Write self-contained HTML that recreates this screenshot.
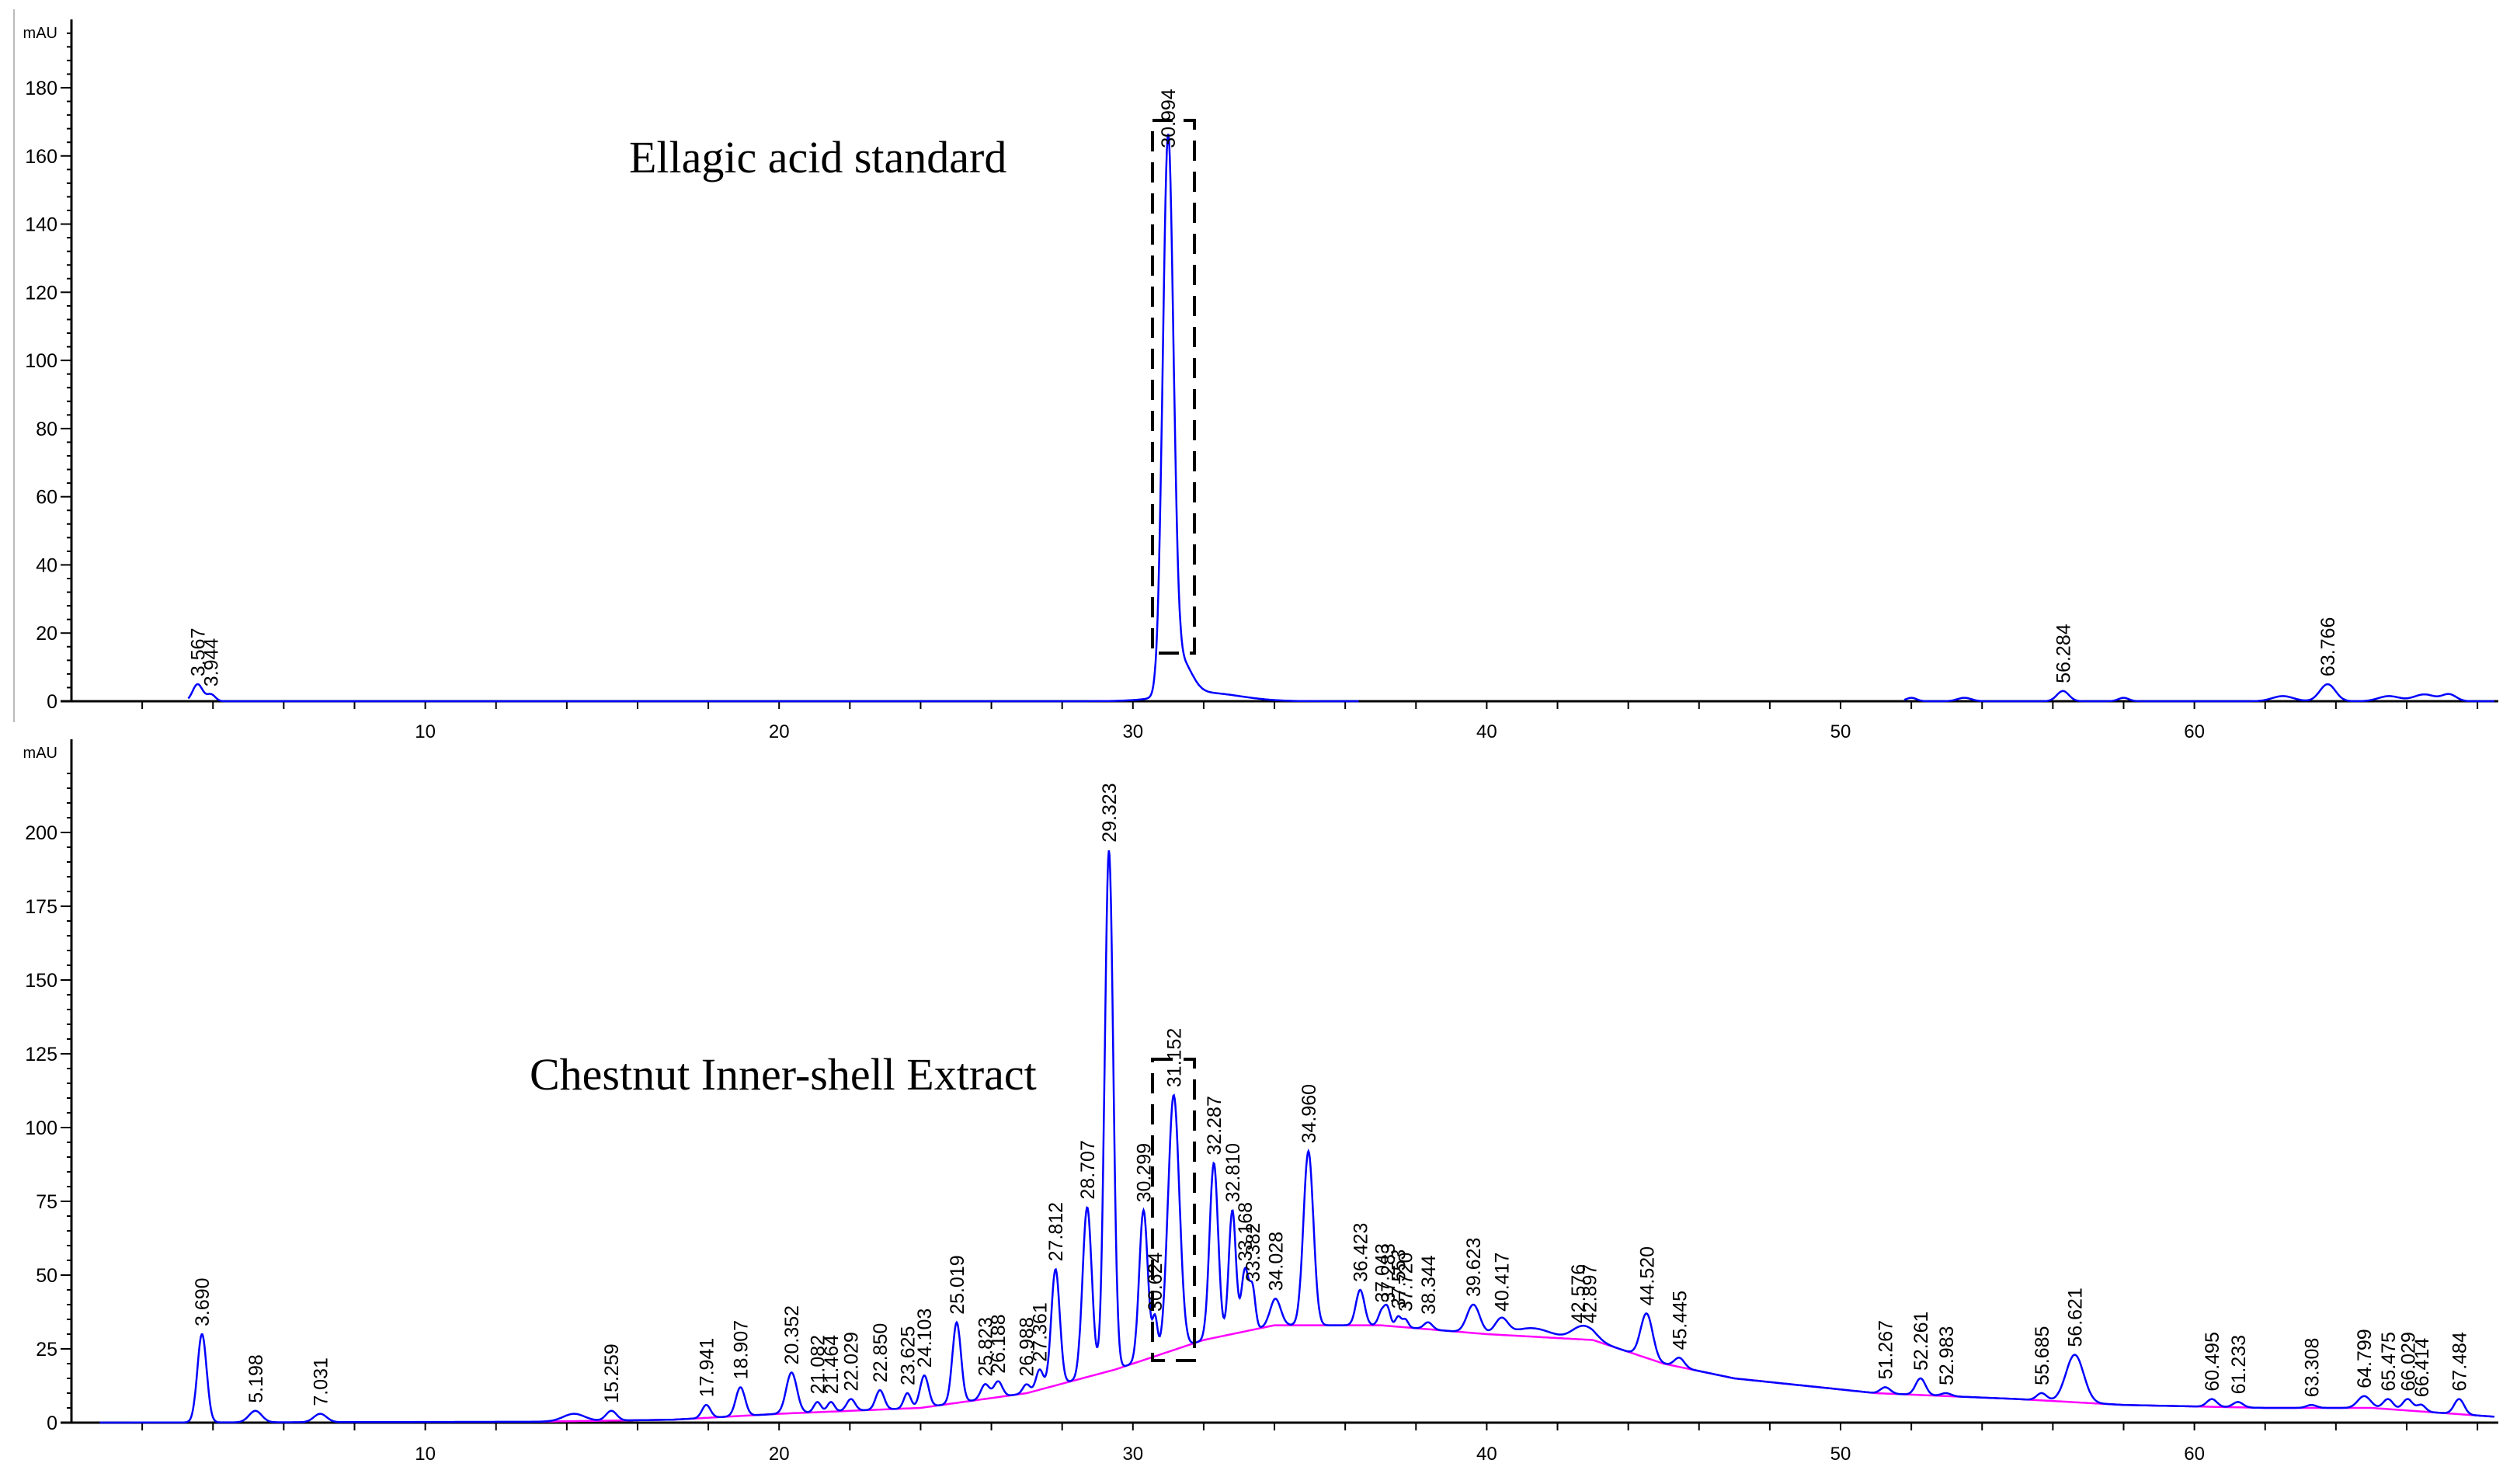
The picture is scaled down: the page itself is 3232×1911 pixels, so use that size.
<!DOCTYPE html>
<html><head><meta charset="utf-8">
<style>
html,body{margin:0;padding:0;background:#fff;}
svg{display:block;font-family:"Liberation Sans",Arial,sans-serif;}
</style></head>
<body>
<svg id="fig" width="3232" height="1911" viewBox="0 0 3232 1911">
<line x1="18" y1="12" x2="18" y2="930" stroke="#bbb" stroke-width="2"/>
<g id="top"></g>
<g id="bot"></g>
<text x="810" y="222" font-family="Liberation Serif,serif" font-size="58">Ellagic acid standard</text>
<text x="682" y="1403" font-family="Liberation Serif,serif" font-size="58">Chestnut Inner-shell Extract</text>
<rect x="1484" y="155" width="54" height="686" fill="none" stroke="#000" stroke-width="4" stroke-dasharray="26,14"/>
<rect x="1484" y="1364" width="54" height="388" fill="none" stroke="#000" stroke-width="4" stroke-dasharray="26,14"/>
</svg>
<script>
// ---- data: top (ellagic acid standard) ----
const topPeakTimes = [3.567, 3.944, 30.994, 31.35, 32.0, 52.0, 53.5, 56.284, 58.0, 62.5, 63.766, 65.5, 66.5, 67.2];
const topPeakHeights = [5, 2, 160, 10, 2.5, 1, 1, 3, 1, 1.5, 5, 1.5, 2, 2];
const topPeakWidths = [0.14, 0.12, 0.15, 0.3, 1.0, 0.15, 0.2, 0.17, 0.15, 0.3, 0.22, 0.3, 0.3, 0.2];
const topPeakLabels = ["3.567", "3.944", "30.994", "", "", "", "", "56.284", "", "", "63.766", "", "", ""];
const topYTicks = [0, 20, 40, 60, 80, 100, 120, 140, 160, 180];
const topSegments = [[3.3, 36.4], [51.8, 68.5]];
// ---- data: bottom (chestnut extract) ----
const botBaseT = [0, 13, 17, 20, 24, 27, 29.5, 30.5, 32, 34, 36, 37, 40, 43, 45, 47, 51, 55, 58, 62, 65, 68.5];
const botBaseV = [0, 0.3, 1, 3, 5, 10, 18, 22, 28, 33, 33, 33, 30, 28, 20, 15, 10, 8, 6, 5, 5, 2];
const botPeakTimes = [3.690, 5.198, 7.031, 15.259, 17.941, 18.907, 20.352, 21.082, 21.464, 22.029, 22.850, 23.625, 24.103, 25.019, 25.823, 26.188, 26.988, 27.361, 27.812, 28.707, 29.323, 30.299, 30.624, 31.152, 32.287, 32.810, 33.168, 33.382, 34.028, 34.960, 36.423, 37.043, 37.2, 37.5, 37.7, 38.344, 39.623, 40.417, 42.576, 42.897, 44.520, 45.445, 51.267, 52.261, 52.983, 55.685, 56.621, 60.495, 61.233, 63.308, 64.799, 65.475, 66.029, 66.414, 67.484, 14.2, 41.3];
const botPeakTops = [30, 4, 3, 4, 6, 12, 17, 7, 7, 8, 11, 10, 16, 34, 13, 14, 13, 18, 52, 73, 194, 72, 35, 111, 88, 72, 52, 45, 42, 92, 45, 38, 38, 36, 35, 34, 40, 35, 31, 31, 37, 22, 12, 15, 10, 10, 23, 8, 7, 6, 9, 8, 8, 6, 8, 3, 32];
const botPeakWidths = [0.13, 0.18, 0.18, 0.15, 0.12, 0.13, 0.15, 0.1, 0.1, 0.12, 0.12, 0.1, 0.12, 0.12, 0.12, 0.12, 0.1, 0.1, 0.12, 0.13, 0.12, 0.12, 0.07, 0.16, 0.12, 0.1, 0.1, 0.08, 0.15, 0.14, 0.12, 0.1, 0.08, 0.08, 0.08, 0.12, 0.18, 0.18, 0.25, 0.25, 0.17, 0.14, 0.14, 0.14, 0.14, 0.14, 0.25, 0.14, 0.14, 0.14, 0.18, 0.14, 0.14, 0.12, 0.14, 0.3, 0.5];
const botPeakLabels = ["3.690", "5.198", "7.031", "15.259", "17.941", "18.907", "20.352", "21.082", "21.464", "22.029", "22.850", "23.625", "24.103", "25.019", "25.823", "26.188", "26.988", "27.361", "27.812", "28.707", "29.323", "30.299", "30.624", "31.152", "32.287", "32.810", "33.168", "33.382", "34.028", "34.960", "36.423", "37.043", "37.283", "37.553", "37.720", "38.344", "39.623", "40.417", "42.576", "42.897", "44.520", "45.445", "51.267", "52.261", "52.983", "55.685", "56.621", "60.495", "61.233", "63.308", "64.799", "65.475", "66.029", "66.414", "67.484", "", ""];
const botYTicks = [0, 25, 50, 75, 100, 125, 150, 175, 200];
const xTicks = [10, 20, 30, 40, 50, 60];

const NS = "http://www.w3.org/2000/svg";
function mk(tag, attrs, parent) { const e = document.createElementNS(NS, tag); for (const k in attrs) e.setAttribute(k, attrs[k]); parent.appendChild(e); return e; }
const xS = t => 92 + t * 45.56;
const tMax = 68.5;

function axes(g, yS, yTicks, minorStep, yMaxVal, axTop, xLabelY, name) {
  const x0 = 92, y0 = yS(0);
  let l = mk("line", {x1: x0, y1: axTop, x2: x0, y2: y0, stroke: "#000", "stroke-width": 3}, g);
  
  
  l = mk("line", {x1: 78, y1: y0, x2: xS(tMax) + 4, y2: y0, stroke: "#000", "stroke-width": 3}, g);
  
  
  for (let v = 0; v <= yMaxVal; v += minorStep) {
    const major = yTicks.includes(v);
    const tk = mk("line", {x1: major ? 78 : 86, y1: yS(v), x2: x0, y2: yS(v), stroke: "#000", "stroke-width": 2}, g);
    
    
  }
  yTicks.forEach(v => {
    const t = mk("text", {x: 74, y: yS(v) + 9, "text-anchor": "end", "font-size": 25}, g);
    t.textContent = v;
    
    
  });
  const mt = mk("text", {x: 74, y: axTop + 24, "text-anchor": "end", "font-size": 20}, g);
  mt.textContent = "mAU";
  
  
  for (let t = 2; t <= 68; t += 2) {
    const tk = mk("line", {x1: xS(t), y1: y0, x2: xS(t), y2: y0 + 10, stroke: "#000", "stroke-width": 2}, g);
    
    
  }
  xTicks.forEach(v => {
    const t = mk("text", {x: xS(v), y: xLabelY, "text-anchor": "middle", "font-size": 24}, g);
    t.textContent = v;
    
    
  });
}
function gauss(t, mu, s) { return Math.exp(-0.5 * ((t - mu) / s) ** 2); }
function interp(t, ts, vs) {
  if (t <= ts[0]) return vs[0];
  for (let i = 1; i < ts.length; i++) if (t <= ts[i]) { const f = (t - ts[i-1]) / (ts[i] - ts[i-1]); return vs[i-1] + f * (vs[i] - vs[i-1]); }
  return vs[vs.length - 1];
}
function labels(g, times, tops, labs, yS, name) {
  times.forEach((t, i) => {
    if (!labs[i]) return;
    const x = xS(t) + 9, y = yS(tops[i]) - 10;
    const tx = mk("text", {x: x, y: y, "font-size": 25, transform: `rotate(-90 ${x} ${y})`}, g);
    tx.textContent = labs[i];
    
    
  });
}

// ---- top panel ----
(function () {
  const g = document.getElementById("top");
  const yS = v => 903 - v * (790 / 180);
  axes(g, yS, topYTicks, 4, 196, 25, 950, "top");
  topSegments.forEach(seg => {
    let d = "";
    for (let t = seg[0]; t <= seg[1]; t += 0.02) {
      let v = 0;
      topPeakTimes.forEach((p, i) => { v += topPeakHeights[i] * gauss(t, p, topPeakWidths[i]); });
      d += (d ? "L" : "M") + xS(t).toFixed(1) + "," + yS(v).toFixed(1);
    }
    const p = mk("path", {d: d, fill: "none", stroke: "#0000ff", "stroke-width": 2.5}, g);
    
    
  });
  const tops = topPeakTimes.map((t, i) => topPeakHeights[i]);
  labels(g, topPeakTimes, tops, topPeakLabels, yS, "top");
})();

// ---- bottom panel ----
(function () {
  const g = document.getElementById("bot");
  const yS = v => 1832 - v * (760 / 200);
  axes(g, yS, botYTicks, 5, 220, 952, 1880, "bottom");
  let bd = "";
  for (let t = 13; t <= tMax; t += 0.1) bd += (bd ? "L" : "M") + xS(t).toFixed(1) + "," + yS(interp(t, botBaseT, botBaseV)).toFixed(1);
  const bl = mk("path", {d: bd, fill: "none", stroke: "#ff00ff", "stroke-width": 2.5}, g);
  
  
  let d = "";
  for (let t = 0.8; t <= tMax; t += 0.02) {
    let v = interp(t, botBaseT, botBaseV);
    botPeakTimes.forEach((p, i) => {
      const h = botPeakTops[i] - interp(p, botBaseT, botBaseV);
      v += h * gauss(t, p, botPeakWidths[i]);
    });
    d += (d ? "L" : "M") + xS(t).toFixed(1) + "," + yS(v).toFixed(1);
  }
  const p = mk("path", {d: d, fill: "none", stroke: "#0000ff", "stroke-width": 2.5}, g);
  
  
  labels(g, botPeakTimes, botPeakTops, botPeakLabels, yS, "bottom");
})();
</script>
</body></html>
